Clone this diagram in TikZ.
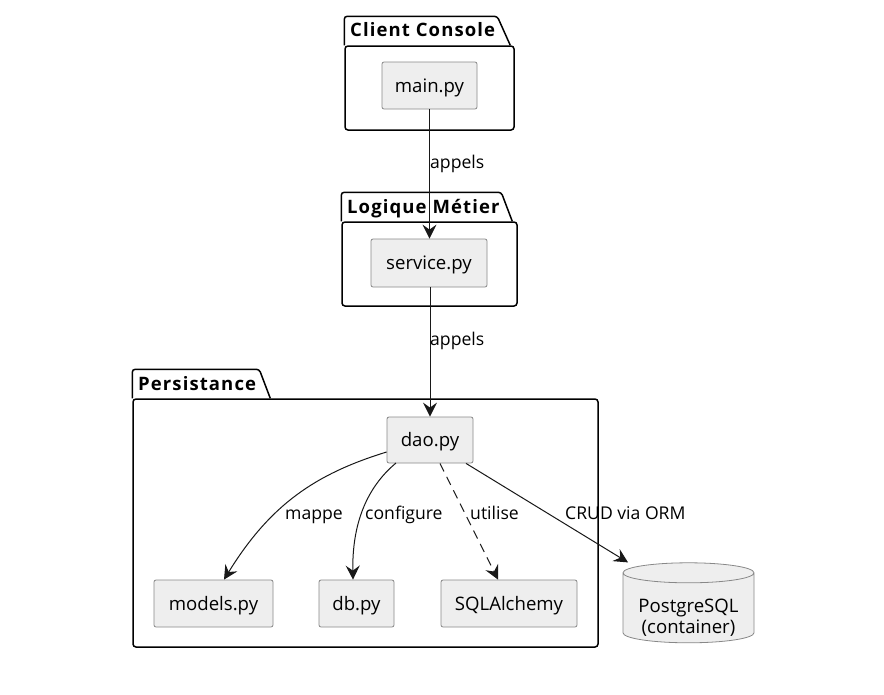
\documentclass[tikz,border=0pt]{standalone}
\usepackage{fontspec}
\setmainfont{Open Sans}
\newfontfamily\pkgfont[LetterSpace=6]{Open Sans}
\usepackage{xcolor}
\definecolor{BoxFill}{RGB}{238,238,238}
\definecolor{BoxLine}{RGB}{136,136,136}
\definecolor{EdgeInk}{RGB}{24,24,24}
\usetikzlibrary{arrows.meta, shapes.geometric, positioning}
\newcommand{\dbline}[1]{\raisebox{-10pt}[14pt][4pt]{#1}}
\tikzset{
  pkgbody/.style={draw=black, line width=1.5pt, rounded corners=3pt, inner sep=0pt},
  pkgtab/.style={draw=black, line width=1.5pt, rounded corners=3pt},
  pkgtitle/.style={font=\pkgfont\bfseries\fontsize{18.5}{20}\selectfont, anchor=west, inner sep=0pt, text height=16pt, text depth=4pt},
  filebox/.style={draw=BoxLine, fill=BoxFill, line width=0.8pt, rounded corners=2pt,
    font=\fontsize{18.6}{21}\selectfont, inner sep=0pt, text height=17pt, text depth=4pt},
  link/.style={draw=EdgeInk, line width=1pt, -{Stealth[length=14pt, width=14pt, inset=5pt]}},
  linklabel/.style={font=\fontsize{17.6}{19}\selectfont, anchor=west, inner sep=0pt, text height=16pt, text depth=4pt}
}
\begin{document}
\begin{tikzpicture}[x=1pt, y=-1pt]
    \useasboundingbox (0,0) rectangle (884,694);

    % Client Console
    \node[pkgbody, minimum width=169pt, minimum height=84pt] (CC) at (429.5,88) {};
    \draw[pkgtab] (CC.north west) -- ++(0,-29) -- ++(153,0) -- ++(13,29);
    \node[pkgtitle] (CCt) at (350,30) {Client Console};

    % Logique Metier
    \node[pkgbody, minimum width=175pt, minimum height=84pt] (LM) at (429.5,264) {};
    \draw[pkgtab] (LM.north west) -- ++(0,-29) -- ++(160,0) -- ++(11,29);
    \node[pkgtitle] (LMt) at (347,207) {Logique Métier};

    % Persistance
    \node[pkgbody, minimum width=465pt, minimum height=248pt] (PE) at (365.5,523) {};
    \draw[pkgtab] (PE.north west) -- ++(0,-29) -- ++(127,0) -- ++(11,29);
    \node[pkgtitle] (PEt) at (138,384) {Persistance};

    % Files
    \node[filebox, minimum width=95pt, minimum height=47pt] (MAIN) at (429.5,85.5) {main.py};
    \node[filebox, minimum width=116pt, minimum height=48pt] (SERV) at (429,263) {service.py};
    \node[filebox, minimum width=86pt, minimum height=46pt] (DAO) at (430,440) {dao.py};
    \node[filebox, minimum width=119pt, minimum height=47pt] (MODELS) at (213.5,603.5) {models.py};
    \node[filebox, minimum width=75pt, minimum height=47pt] (DB) at (356.5,603.5) {db.py};
    \node[filebox, minimum width=136pt, minimum height=47pt] (SQLA) at (509,603.5) {SQLAlchemy};

    % Database
    \node[cylinder, shape border rotate=90, shape aspect=0.2, draw=BoxLine, fill=BoxFill,
          line width=0.8pt, minimum width=131pt, minimum height=80pt, inner sep=0pt,
          font=\fontsize{18.6}{21}\selectfont, align=center] (PG) at (688.5,608)
          {\dbline{PostgreSQL}\\\dbline{(container)}};

    % Arrows
    \draw[link] (MAIN.south) -- (SERV.north -| MAIN.south);
    \draw[link] (SERV.south -| DAO.north) -- (DAO.north);
    \draw[link] (DAO.west |- 0,452) .. controls (315,474) and (270,505) .. (MODELS.north -| 224,0);
    \draw[link] (396,463) .. controls (366,488) and (352,525) .. (DB.north -| 353,0);
    \draw[link, dashed, dash pattern=on 9pt off 6pt] (DAO.south -| 440,0) -- (SQLA.north -| 498,0);
    \draw[link] (DAO.south -| 466,0) -- (PG.north -| 628,0);

    % Labels on arrows
    \node[linklabel] (L1) at (430,162) {appels};
    \node[linklabel] (L2) at (430,339) {appels};
    \node[linklabel] (L3) at (285,513) {mappe};
    \node[linklabel] (L4) at (365,513) {configure};
    \node[linklabel] (L5) at (470,513) {utilise};
    \node[linklabel] (L6) at (565,513) {CRUD via ORM};
\end{tikzpicture}
\end{document}
